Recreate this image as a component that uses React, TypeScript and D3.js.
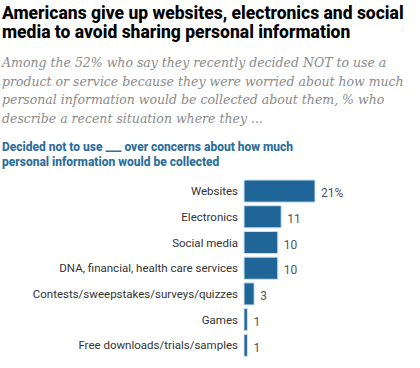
import React from 'react';
import * as d3 from 'd3';

// chart data
const categories = [
  'Websites',
  'Electronics',
  'Social media',
  'DNA, financial, health care services',
  'Contests/sweepstakes/surveys/quizzes',
  'Games',
  'Free downloads/trials/samples',
];
const values = [21, 11, 10, 10, 3, 1, 1];
const valueLabels = ['21%', '11', '10', '10', '3', '1', '1'];

const titleLines = [
  'Americans give up websites, electronics and social',
  'media to avoid sharing personal information',
];
const subtitleLines = [
  'Among the 52% who say they recently decided NOT to use a',
  'product or service because they were worried about how much',
  'personal information would be collected about them, % who',
  'describe a recent situation where they ...',
];
const headerLines = [
  'Decided not to use ___ over concerns about how much',
  'personal information would be collected',
];

const App = () => {
  const width = 420, height = 368;
  const barLeft = 244;

  // horizontal scale for the percentages
  const xScale = d3.scaleLinear().domain([0, 21]).range([barLeft, 315]);

  // band scale for the rows
  const yScale = d3.scaleBand()
    .domain(categories)
    .range([176.4, 360])
    .padding(0.14);

  const rows = categories.map((c, i) => ({ c, v: values[i], label: valueLabels[i] }));

  return (
    <svg width={width} height={height} style={{ position: 'absolute', left: 0, top: 0, background: '#fff' }}>
      {/* title */}
      {titleLines.map((t, i) => (
        <text key={t} x={2} y={19 + i * 19} fontFamily="Roboto, sans-serif" fontWeight={800} fontSize="17.5px" fill="#000">{t}</text>
      ))}
      {/* italic subtitle */}
      {subtitleLines.map((t, i) => (
        <text key={t} x={2} y={67 + i * 18.5} fontFamily="'DejaVu Serif', serif" fontStyle="italic" fontSize="12.5px" fill="#8a8a8a">{t}</text>
      ))}
      {/* blue header above the bars */}
      {headerLines.map((t, i) => (
        <text key={t} x={2} y={151 + i * 14.5} fontFamily="Roboto, sans-serif" fontWeight={800} fontSize="12px" fill="#2b6d9c">{t}</text>
      ))}
      {/* bars */}
      {rows.map(d => (
        <rect key={d.c} x={xScale(0)} y={yScale(d.c)} width={xScale(d.v) - xScale(0)} height={yScale.bandwidth()}
          fill="#1f6597" stroke="#cfe3f1" strokeWidth={1} />
      ))}
      {/* category labels */}
      {rows.map(d => (
        <text key={`${d.c}-cat`} x={barLeft - 6} y={(yScale(d.c) as number) + yScale.bandwidth() / 2} dy="0.35em"
          textAnchor="end" fontFamily="Roboto, sans-serif" fontSize="11.5px" fill="#333">{d.c}</text>
      ))}
      {/* value labels */}
      {rows.map(d => (
        <text key={`${d.c}-val`} x={xScale(d.v) + 6} y={(yScale(d.c) as number) + yScale.bandwidth() / 2 + 2} dy="0.35em"
          fontFamily="Roboto, sans-serif" fontSize="12px" fill="#555">{d.label}</text>
      ))}
    </svg>
  );
};

export default App;
